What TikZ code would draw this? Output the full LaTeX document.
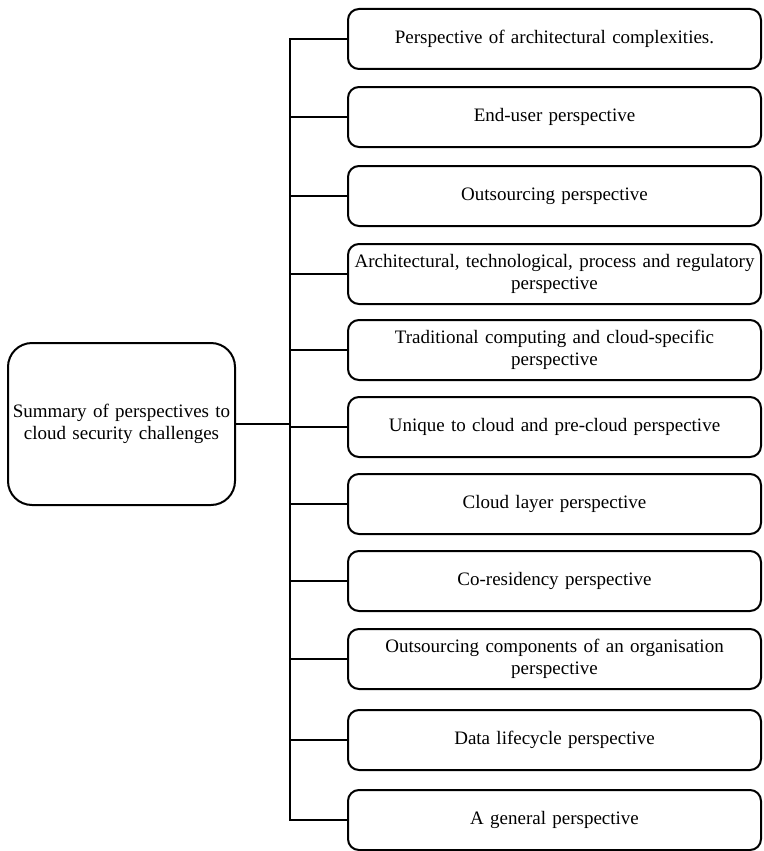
\documentclass[tikz,border=0pt]{standalone}
\usepackage{fontspec}
\setmainfont{Liberation Serif}
\begin{document}
\begin{tikzpicture}[x=1pt,y=-1pt,
  item/.style={draw, line width=2pt, rounded corners=11pt, minimum width=413pt,
    minimum height=60pt, text width=405pt, align=center, inner sep=2pt,
    font=\fontsize{19}{22}\selectfont, anchor=west},
  hub/.style={draw, line width=2pt, rounded corners=24pt, minimum width=227pt,
    minimum height=162pt, text width=225pt, align=center, inner sep=1pt,
    font=\fontsize{19}{22}\selectfont},
  link/.style={line width=2pt}]
\useasboundingbox (0,0) rectangle (763,851);
\node[hub] (root) at (121.5,424) {Summary of perspectives to\\cloud security challenges};
\node[item] (p1) at (347,39) {Perspective of architectural complexities.};
\node[item] (p2) at (347,117) {End-user perspective};
\node[item] (p3) at (347,196) {Outsourcing perspective};
\node[item] (p4) at (347,274) {Architectural, technological, process and regulatory\\perspective};
\node[item] (p5) at (347,350) {Traditional computing and cloud-specific\\perspective};
\node[item] (p6) at (347,427) {Unique to cloud and pre-cloud perspective};
\node[item] (p7) at (347,504) {Cloud layer perspective};
\node[item] (p8) at (347,581) {Co-residency perspective};
\node[item] (p9) at (347,659) {Outsourcing components of an organisation\\perspective};
\node[item] (p10) at (347,740) {Data lifecycle perspective};
\node[item] (p11) at (347,820) {A general perspective};
\coordinate (top) at (290,39);
\coordinate (bot) at (290,820);
\draw[link] (p1.west) -- (top) -- (bot) -- (p11.west);
\draw[link] (root.east) -- (root.east -| top);
\foreach \i in {2,...,10} \draw[link] (p\i.west) -- (p\i.west -| top);
\end{tikzpicture}
\end{document}
